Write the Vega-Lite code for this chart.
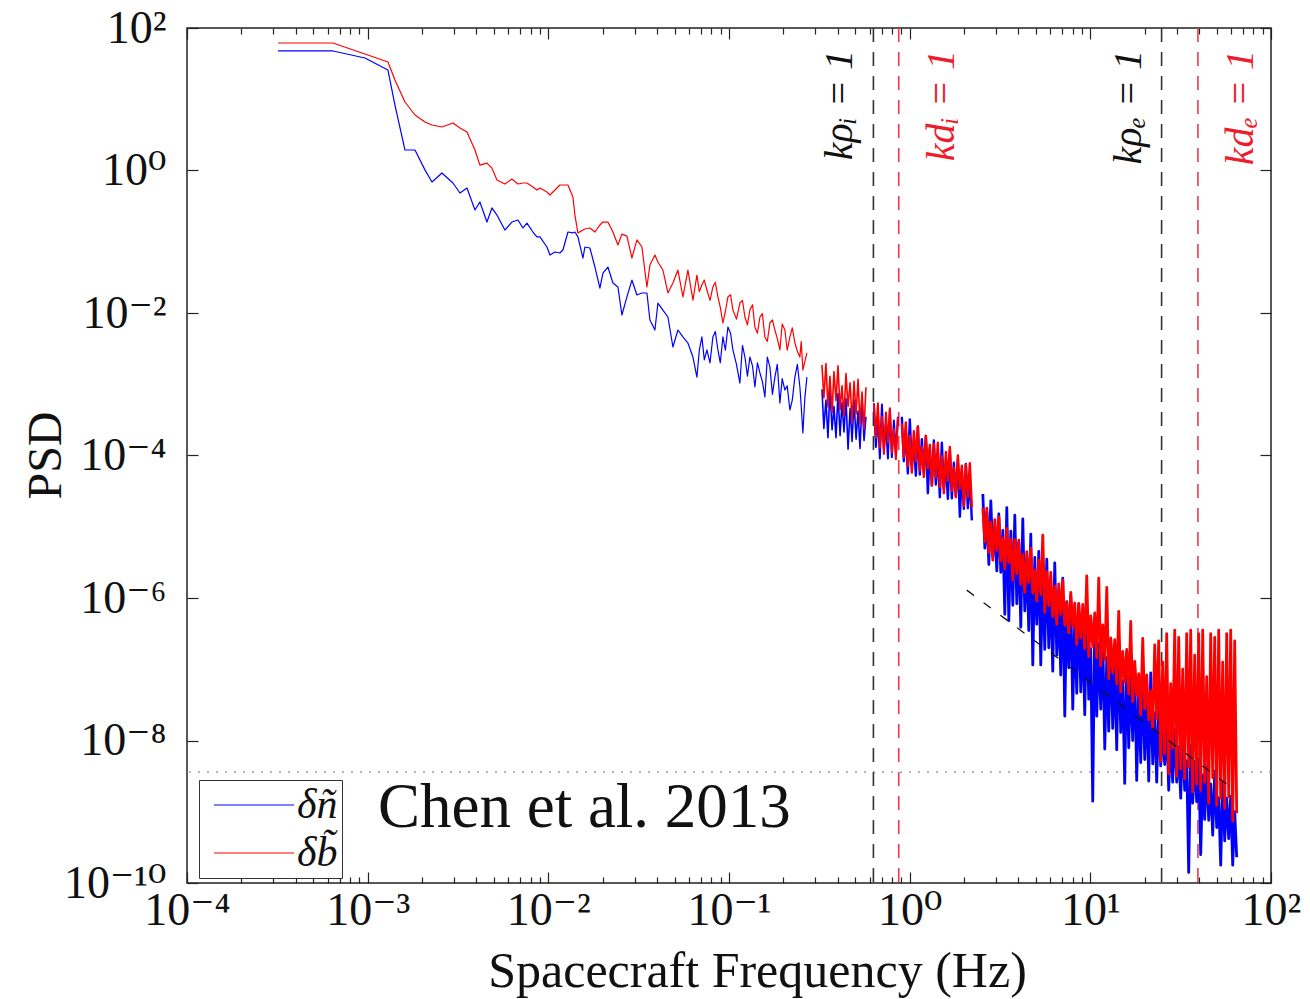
{
 "$schema": "https://vega.github.io/schema/vega-lite/v6.json",
 "width": 1084,
 "height": 855,
 "autosize": {"type": "none"},
 "padding": {"left": 187, "top": 28, "right": 39, "bottom": 116},
 "background": "white",
 "config": {"view": {"stroke": "#222", "strokeWidth": 1.5}, "font": "Liberation Serif"},
 "title": {"text": "p", "anchor": "start", "frame": "group", "baseline": "alphabetic", "offset": 30, "dx": 44, "fontSize": 60, "font": "Liberation Serif", "fontWeight": "normal", "color": "#e8280c"},
 "datasets": {
  "psd": [
   {"s":1,"f":3.19e-4,"n":47.6,"b":61.6},{"s":1,"f":6.43e-4,"n":47.6,"b":61.6},{"s":1,"f":9.66e-4,"n":37.9,"b":43.2},{"s":1,"f":1.295e-3,"n":25.7,"b":33.3},
   {"s":1,"f":1.416e-3,"n":8.30,"b":18.6},{"s":1,"f":1.608e-3,"n":1.94,"b":9.15},{"s":1,"f":1.828e-3,"n":1.94,"b":6.01},{"s":1,"f":2.075e-3,"n":1.02,"b":4.79},
   {"s":1,"f":2.27e-3,"n":0.690,"b":4.35},{"s":1,"f":2.577e-3,"n":0.922,"b":4.08},{"s":1,"f":2.965e-3,"n":0.668,"b":4.64},{"s":1,"f":3.243e-3,"n":0.483,"b":3.95},
   {"s":1,"f":3.544e-3,"n":0.568,"b":3.47},{"s":1,"f":3.926e-3,"n":0.279,"b":1.94},{"s":1,"f":4.18e-3,"n":0.361,"b":1.19},{"s":1,"f":4.573e-3,"n":0.189,"b":1.27},
   {"s":1,"f":4.875e-3,"n":0.298,"b":1.08},{"s":1,"f":5.195e-3,"n":0.237,"b":0.736},{"s":1,"f":5.75e-3,"n":0.146,"b":0.646},{"s":1,"f":6.288e-3,"n":0.189,"b":0.760},
   {"s":1,"f":6.788e-3,"n":0.202,"b":0.646},{"s":1,"f":7.235e-3,"n":0.156,"b":0.668},{"s":1,"f":7.614e-3,"n":0.183,"b":0.668},{"s":1,"f":8.218e-3,"n":0.137,"b":0.587},
   {"s":1,"f":8.647e-3,"n":0.117,"b":0.532},{"s":1,"f":8.984e-3,"n":0.117,"b":0.568},{"s":1,"f":9.824e-3,"n":0.0844,"b":0.499},{"s":1,"f":1.021e-2,"n":0.0652,"b":0.453},
   {"s":1,"f":1.088e-2,"n":0.0718,"b":0.532},{"s":1,"f":1.159e-2,"n":0.0695,"b":0.626},{"s":1,"f":1.204e-2,"n":0.0766,"b":0.626},{"s":1,"f":1.284e-2,"n":0.137,"b":0.626},
   {"s":1,"f":1.368e-2,"n":0.133,"b":0.425},{"s":1,"f":1.403e-2,"n":0.137,"b":0.237},{"s":1,"f":1.458e-2,"n":0.117,"b":0.133},{"s":1,"f":1.554e-2,"n":0.0591,"b":0.146},
   {"s":1,"f":1.594e-2,"n":0.0844,"b":0.151},{"s":1,"f":1.699e-2,"n":0.0817,"b":0.156},{"s":1,"f":1.811e-2,"n":0.0442,"b":0.137},{"s":1,"f":1.93e-2,"n":0.0224,"b":0.172},
   {"s":1,"f":2.005e-2,"n":0.0364,"b":0.189},{"s":1,"f":2.137e-2,"n":0.0442,"b":0.189},{"s":1,"f":2.278e-2,"n":0.0264,"b":0.137},{"s":1,"f":2.428e-2,"n":0.0232,"b":0.090},
   {"s":1,"f":2.554e-2,"n":0.00937,"b":0.128},{"s":1,"f":2.723e-2,"n":0.0168,"b":0.120},{"s":1,"f":2.901e-2,"n":0.0290,"b":0.0591},{"s":1,"f":3.093e-2,"n":0.0179,"b":0.106},
   {"s":1,"f":3.296e-2,"n":0.0191,"b":0.0844},{"s":1,"f":3.513e-2,"n":0.0191,"b":0.0232},{"s":1,"f":3.65e-2,"n":0.00798,"b":0.0472},{"s":1,"f":3.89e-2,"n":0.00577,"b":0.0652},
   {"s":1,"f":4.042e-2,"n":0.0138,"b":0.0520},{"s":1,"f":4.308e-2,"n":0.0110,"b":0.0401},{"s":1,"f":4.592e-2,"n":0.00879,"b":0.0191},{"s":1,"f":4.893e-2,"n":0.00333,"b":0.0264},
   {"s":1,"f":5.215e-2,"n":0.00577,"b":0.0401},{"s":1,"f":5.558e-2,"n":0.00461,"b":0.0168},{"s":1,"f":5.924e-2,"n":0.00379,"b":0.0401},{"s":1,"f":6.314e-2,"n":0.00241,"b":0.0152},
   {"s":1,"f":6.644e-2,"n":0.00126,"b":0.0341},{"s":1,"f":7.079e-2,"n":0.00461,"b":0.0247},{"s":1,"f":7.545e-2,"n":0.00303,"b":0.0210},{"s":1,"f":8.143e-2,"n":0.00461,"b":0.0232},
   {"s":1,"f":8.682e-2,"n":0.00303,"b":0.0168},{"s":1,"f":9.252e-2,"n":0.00461,"b":0.00724},{"s":1,"f":9.86e-2,"n":0.00636,"b":0.0168},{"s":1,"f":0.1051,"n":0.00303,"b":0.0110},
   {"s":1,"f":0.1149,"n":0.00104,"b":0.0138},{"s":1,"f":0.1225,"n":0.00241,"b":0.00879},{"s":1,"f":0.1305,"n":0.00241,"b":0.0110},{"s":1,"f":0.1391,"n":0.000915,"b":0.00636},
   {"s":1,"f":0.1483,"n":0.00144,"b":0.00879},{"s":1,"f":0.158,"n":0.000662,"b":0.00461},{"s":1,"f":0.1684,"n":0.00175,"b":0.00724},{"s":1,"f":0.1795,"n":0.00126,"b":0.00577},
   {"s":1,"f":0.1913,"n":0.000545,"b":0.00303},{"s":1,"f":0.2039,"n":0.00083,"b":0.00577},{"s":1,"f":0.2173,"n":0.000435,"b":0.00461},{"s":1,"f":0.2316,"n":0.00126,"b":0.00379},
   {"s":1,"f":0.2468,"n":0.000915,"b":0.00241},{"s":1,"f":0.2564,"n":0.000207,"b":0.00158},{"s":1,"f":0.2699,"n":0.00126,"b":0.00275},
   {"s":1,"f":6.85e-2,"n":0.0030,"b":0.0200},{"s":1,"f":7.3e-2,"n":0.0022,"b":0.0290},{"s":1,"f":7.85e-2,"n":0.0020,"b":0.0150},{"s":1,"f":8.4e-2,"n":0.0055,"b":0.0270},
   {"s":1,"f":8.95e-2,"n":0.0020,"b":0.0120},{"s":1,"f":9.55e-2,"n":0.0030,"b":0.0105},{"s":1,"f":0.102,"n":0.0052,"b":0.0180},{"s":1,"f":0.110,"n":0.0019,"b":0.0082},
   {"s":1,"f":0.1187,"n":0.0035,"b":0.0150},{"s":1,"f":0.1265,"n":0.0013,"b":0.0068},{"s":1,"f":0.135,"n":0.0018,"b":0.0130},{"s":1,"f":0.1437,"n":0.0020,"b":0.0052},
   {"s":1,"f":0.153,"n":0.0011,"b":0.0098},{"s":1,"f":0.163,"n":0.0024,"b":0.0040},{"s":1,"f":0.174,"n":0.00072,"b":0.0080},{"s":1,"f":0.185,"n":0.0019,"b":0.0044},
   {"s":1,"f":0.197,"n":0.0012,"b":0.0070},{"s":1,"f":0.210,"n":0.00095,"b":0.0030},{"s":1,"f":0.224,"n":0.00060,"b":0.0062},{"s":1,"f":0.239,"n":0.0019,"b":0.0029},
   {"s":1,"f":0.251,"n":0.00050,"b":0.0040},{"s":1,"f":0.263,"n":0.00065,"b":0.0021},
   {"s":2,"f":0.327,"n":8.5e-4,"b":1.86e-3},{"s":2,"f":0.335,"n":2.4e-4,"b":6.4e-4},{"s":2,"f":0.344,"n":6.0e-4,"b":1.95e-3},{"s":2,"f":0.353,"n":1.78e-4,"b":4.8e-4},
   {"s":2,"f":0.362,"n":8.5e-4,"b":1.29e-3},{"s":2,"f":0.372,"n":2.3e-4,"b":4.0e-4},{"s":2,"f":0.381,"n":4.9e-4,"b":1.51e-3},{"s":2,"f":0.391,"n":1.78e-4,"b":5.9e-4},
   {"s":2,"f":0.401,"n":7.4e-4,"b":1.82e-3},{"s":2,"f":0.412,"n":1.9e-4,"b":4.4e-4},{"s":2,"f":0.422,"n":5.5e-4,"b":9.5e-4},{"s":2,"f":0.433,"n":2.14e-4,"b":3.6e-4},
   {"s":2,"f":0.444,"n":6.3e-4,"b":1.41e-3},{"s":2,"f":0.456,"n":1.23e-4,"b":4.9e-4},{"s":2,"f":0.468,"n":4.6e-4,"b":1.05e-3},{"s":2,"f":0.480,"n":1.58e-4,"b":2.9e-4},
   {"s":2,"f":0.492,"n":6.0e-4,"b":1.1e-3},{"s":2,"f":0.505,"n":1.7e-4,"b":3.8e-4},{"s":2,"f":0.518,"n":4.2e-4,"b":1.17e-3},{"s":2,"f":0.531,"n":1.26e-4,"b":2.8e-4},
   {"s":2,"f":0.545,"n":6.0e-4,"b":7.8e-4},{"s":2,"f":0.559,"n":1.62e-4,"b":2.34e-4},{"s":2,"f":0.573,"n":3.5e-4,"b":9.1e-4},
   {"s":3,"f":0.634,"n":5.4e-4,"b":5.2e-4},{"s":3,"f":0.650,"n":1.32e-4,"b":1.78e-4},{"s":3,"f":0.667,"n":3.55e-4,"b":5.4e-4},{"s":3,"f":0.684,"n":9.1e-5,"b":1.29e-4},
   {"s":3,"f":0.702,"n":5.2e-4,"b":3.5e-4},{"s":3,"f":0.720,"n":1.2e-4,"b":1.05e-4},{"s":3,"f":0.739,"n":2.8e-4,"b":4.0e-4},{"s":3,"f":0.758,"n":9.1e-5,"b":1.51e-4},
   {"s":3,"f":0.777,"n":4.4e-4,"b":4.6e-4},{"s":3,"f":0.797,"n":9.5e-5,"b":1.1e-4},{"s":3,"f":0.818,"n":3.1e-4,"b":2.34e-4},{"s":3,"f":0.839,"n":1.07e-4,"b":8.9e-5},
   {"s":3,"f":0.861,"n":3.5e-4,"b":3.4e-4},
   {"s":4,"f":0.905,"n":3.5e-4,"b":2.8e-4},{"s":4,"f":0.928,"n":8.3e-5,"b":9.5e-5},{"s":4,"f":0.952,"n":2.24e-4,"b":2.9e-4},{"s":4,"f":0.977,"n":5.6e-5,"b":7.1e-5},
   {"s":4,"f":1.002,"n":3.2e-4,"b":1.9e-4},{"s":4,"f":1.028,"n":7.2e-5,"b":5.75e-5},{"s":4,"f":1.055,"n":1.66e-4,"b":2.2e-4},{"s":4,"f":1.082,"n":5.2e-5,"b":8.3e-5},
   {"s":4,"f":1.110,"n":2.5e-4,"b":2.57e-4},{"s":4,"f":1.138,"n":5.4e-5,"b":6.2e-5},{"s":4,"f":1.168,"n":1.7e-4,"b":1.32e-4},{"s":4,"f":1.198,"n":5.8e-5,"b":5.0e-5},
   {"s":4,"f":1.229,"n":1.86e-4,"b":1.9e-4},{"s":4,"f":1.261,"n":2.95e-5,"b":6.6e-5},{"s":4,"f":1.293,"n":1.26e-4,"b":1.41e-4},{"s":4,"f":1.327,"n":3.8e-5,"b":3.8e-5},
   {"s":4,"f":1.361,"n":1.62e-4,"b":1.45e-4},{"s":4,"f":1.396,"n":3.9e-5,"b":4.9e-5},{"s":4,"f":1.432,"n":1.05e-4,"b":1.51e-4},{"s":4,"f":1.469,"n":2.6e-5,"b":3.6e-5},
   {"s":4,"f":1.507,"n":1.51e-4,"b":9.8e-5},{"s":4,"f":1.546,"n":3.4e-5,"b":2.95e-5},{"s":4,"f":1.586,"n":7.8e-5,"b":1.12e-4},{"s":4,"f":1.627,"n":2.45e-5,"b":4.4e-5},
   {"s":4,"f":1.669,"n":1.17e-4,"b":1.32e-4},{"s":4,"f":1.712,"n":2.5e-5,"b":3.16e-5},{"s":4,"f":1.756,"n":7.9e-5,"b":6.8e-5},{"s":4,"f":1.801,"n":2.7e-5,"b":2.6e-5},
   {"s":4,"f":1.848,"n":8.7e-5,"b":1.0e-4},{"s":4,"f":1.896,"n":1.38e-5,"b":3.4e-5},{"s":4,"f":1.945,"n":5.9e-5,"b":7.2e-5},{"s":4,"f":1.995,"n":1.78e-5,"b":1.95e-5},
   {"s":4,"f":2.046,"n":7.6e-5,"b":7.4e-5},{"s":4,"f":2.099,"n":1.82e-5,"b":2.6e-5},{"s":4,"f":2.153,"n":4.9e-5,"b":7.8e-5},{"s":4,"f":2.209,"n":1.23e-5,"b":1.86e-5},
   {"s":5,"f":2.541,"n":2.88e-5,"b":1.86e-5},{"s":5,"f":2.607,"n":5.0e-6,"b":6.17e-6},{"s":5,"f":2.674,"n":1.58e-5,"b":1.82e-5},{"s":5,"f":2.743,"n":2.95e-6,"b":4.36e-6},
   {"s":5,"f":2.813,"n":2.3e-5,"b":1.15e-5},{"s":5,"f":2.886,"n":3.8e-6,"b":3.39e-6},{"s":5,"f":2.960,"n":9.8e-6,"b":1.26e-5},{"s":5,"f":3.037,"n":2.4e-6,"b":4.7e-6},
   {"s":5,"f":3.115,"n":1.51e-5,"b":1.38e-5},{"s":5,"f":3.195,"n":2.3e-6,"b":3.3e-6},{"s":5,"f":3.278,"n":8.9e-6,"b":6.9e-6},{"s":5,"f":3.362,"n":5.9e-7,"b":2.57e-6},
   {"s":5,"f":3.449,"n":1.86e-5,"b":9.5e-6},{"s":5,"f":3.538,"n":4.8e-7,"b":3.16e-6},{"s":5,"f":3.629,"n":8.7e-6,"b":6.7e-6},{"s":5,"f":3.723,"n":7.9e-7,"b":1.78e-6},
   {"s":5,"f":3.819,"n":1.45e-5,"b":6.6e-6},{"s":5,"f":3.917,"n":8.3e-7,"b":2.2e-6},{"s":5,"f":4.018,"n":6.0e-6,"b":6.5e-6},{"s":5,"f":4.122,"n":3.9e-7,"b":1.55e-6},
   {"s":5,"f":4.228,"n":1.29e-5,"b":4.07e-6},{"s":5,"f":4.337,"n":6.6e-7,"b":1.2e-6},{"s":5,"f":4.449,"n":3.4e-6,"b":4.47e-6},{"s":5,"f":4.564,"n":3.5e-7,"b":1.66e-6},
   {"s":5,"f":4.682,"n":7.9e-6,"b":5.0e-6},{"s":5,"f":4.802,"n":1.15e-7,"b":1.17e-6},{"s":5,"f":4.926,"n":3.7e-6,"b":2.45e-6},{"s":5,"f":5.053,"n":4.3e-7,"b":9.1e-7},
   {"s":5,"f":5.184,"n":4.5e-6,"b":3.39e-6},{"s":5,"f":5.317,"n":1.15e-7,"b":1.12e-6},{"s":5,"f":5.455,"n":2.1e-6,"b":7.6e-6},{"s":5,"f":5.595,"n":1.9e-7,"b":6.3e-7},
   {"s":5,"f":5.740,"n":3.5e-6,"b":2.34e-6},{"s":5,"f":5.888,"n":2.0e-7,"b":7.8e-7},{"s":5,"f":6.040,"n":1.45e-6,"b":2.29e-6},{"s":5,"f":6.195,"n":9.4e-8,"b":5.5e-7},
   {"s":5,"f":6.355,"n":3.1e-6,"b":1.45e-6},{"s":5,"f":6.519,"n":1.58e-7,"b":4.27e-7},{"s":5,"f":6.688,"n":8.1e-7,"b":1.58e-6},{"s":5,"f":6.860,"n":8.3e-8,"b":5.9e-7},
   {"s":5,"f":7.037,"n":1.9e-6,"b":1.78e-6},{"s":5,"f":7.219,"n":2.2e-8,"b":4.17e-7},{"s":5,"f":7.405,"n":8.9e-7,"b":8.7e-7},{"s":5,"f":7.596,"n":1.05e-7,"b":3.24e-7},
   {"s":5,"f":7.792,"n":1.07e-6,"b":1.2e-6},{"s":5,"f":7.993,"n":2.75e-8,"b":4.0e-7},{"s":5,"f":8.199,"n":5.0e-7,"b":8.5e-7},{"s":5,"f":8.411,"n":4.6e-8,"b":2.24e-7},
   {"s":5,"f":8.628,"n":8.3e-7,"b":8.3e-7},{"s":5,"f":8.851,"n":4.8e-8,"b":2.75e-7},{"s":5,"f":9.079,"n":3.5e-7,"b":8.1e-7},{"s":5,"f":9.313,"n":2.3e-8,"b":1.95e-7},
   {"s":5,"f":9.554,"n":7.4e-7,"b":2.04e-6},{"s":5,"f":9.800,"n":3.8e-8,"b":1.51e-7},{"s":5,"f":10.05,"n":1.95e-7,"b":5.6e-7},{"s":5,"f":10.31,"n":1.41e-9,"b":2.1e-7},
   {"s":5,"f":10.58,"n":4.7e-7,"b":6.2e-7},{"s":5,"f":10.85,"n":2.2e-8,"b":1.45e-7},{"s":5,"f":11.13,"n":2.3e-7,"b":1.9e-6},{"s":5,"f":11.42,"n":2.75e-8,"b":1.12e-7},
   {"s":5,"f":11.71,"n":2.9e-7,"b":4.2e-7},{"s":5,"f":12.02,"n":7.6e-9,"b":1.35e-7},{"s":5,"f":12.33,"n":1.45e-7,"b":1.41e-6},{"s":5,"f":12.64,"n":1.35e-8,"b":7.4e-8},
   {"s":5,"f":12.97,"n":2.5e-7,"b":2.75e-7},{"s":5,"f":13.30,"n":1.48e-8,"b":9.1e-8},{"s":5,"f":13.65,"n":1.12e-7,"b":2.6e-7},{"s":5,"f":14.00,"n":7.4e-9,"b":6.2e-8},
   {"s":5,"f":14.36,"n":2.45e-7,"b":6.5e-7},{"s":5,"f":14.73,"n":1.3e-8,"b":4.8e-8},{"s":5,"f":15.11,"n":6.9e-8,"b":1.78e-7},{"s":5,"f":15.50,"n":2.5e-9,"b":6.6e-8},
   {"s":5,"f":15.90,"n":1.7e-7,"b":1.9e-7},{"s":5,"f":16.31,"n":7.9e-9,"b":4.5e-8},{"s":5,"f":16.73,"n":8.5e-8,"b":4.7e-7},{"s":5,"f":17.16,"n":1.0e-8,"b":3.5e-8},
   {"s":5,"f":17.61,"n":1.05e-7,"b":1.29e-7},{"s":5,"f":18.06,"n":2.75e-9,"b":4.3e-8},{"s":5,"f":18.53,"n":5.1e-8,"b":8.7e-8},{"s":5,"f":19.01,"n":4.9e-9,"b":2.3e-8},
   {"s":5,"f":19.50,"n":9.1e-8,"b":2.7e-7},{"s":5,"f":20.00,"n":5.4e-9,"b":2.8e-8},{"s":5,"f":20.52,"n":4.0e-8,"b":8.3e-8},{"s":5,"f":21.05,"n":2.7e-9,"b":1.95e-8},
   {"s":5,"f":21.59,"n":8.9e-8,"b":5.0e-8},{"s":5,"f":22.15,"n":4.7e-9,"b":1.48e-8},{"s":5,"f":22.72,"n":2.45e-8,"b":2.2e-7},{"s":5,"f":23.30,"n":2.6e-9,"b":2.04e-8},
   {"s":5,"f":23.90,"n":2.8e-8,"b":2.5e-7},{"s":5,"f":24.52,"n":4.4e-9,"b":5.1e-9},{"s":5,"f":25.15,"n":1.7e-8,"b":1.26e-7},{"s":5,"f":25.80,"n":4.6e-9,"b":6.6e-9},
   {"s":5,"f":26.47,"n":1.82e-8,"b":3.16e-7},{"s":5,"f":27.15,"n":2.0e-9,"b":3.4e-9},{"s":5,"f":27.85,"n":1.1e-8,"b":6.3e-8},{"s":5,"f":28.57,"n":2.6e-9,"b":7.8e-9},
   {"s":5,"f":29.31,"n":1.45e-8,"b":3.55e-7},{"s":5,"f":30.07,"n":2.6e-9,"b":3.16e-9},{"s":5,"f":30.84,"n":8.1e-9,"b":2.8e-7},{"s":5,"f":31.64,"n":1.55e-9,"b":4.0e-9},
   {"s":5,"f":32.45,"n":1.23e-8,"b":1.0e-7},{"s":5,"f":33.29,"n":2.0e-9,"b":2.9e-9},{"s":5,"f":34.15,"n":5.2e-9,"b":3.16e-7},{"s":5,"f":35.03,"n":1.41e-10,"b":4.2e-9},
   {"s":5,"f":35.94,"n":8.5e-9,"b":3.55e-7},{"s":5,"f":36.86,"n":1.32e-9,"b":1.9e-9},{"s":5,"f":37.82,"n":5.1e-9,"b":1.58e-7},{"s":5,"f":38.79,"n":1.38e-9,"b":2.45e-9},
   {"s":5,"f":39.79,"n":5.5e-9,"b":3.16e-7},{"s":5,"f":40.82,"n":2.5e-10,"b":2.0e-9},{"s":5,"f":41.88,"n":3.3e-9,"b":3.55e-7},{"s":5,"f":42.96,"n":7.8e-10,"b":2.6e-9},
   {"s":5,"f":44.07,"n":4.4e-9,"b":7.9e-8},{"s":5,"f":45.20,"n":7.6e-10,"b":1.32e-9},{"s":5,"f":46.37,"n":2.45e-9,"b":3.16e-7},{"s":5,"f":47.57,"n":4.7e-10,"b":3.0e-9},
   {"s":5,"f":48.80,"n":3.7e-9,"b":2.8e-7},{"s":5,"f":50.06,"n":6.0e-10,"b":1.23e-9},{"s":5,"f":51.35,"n":1.58e-9,"b":3.55e-7},{"s":5,"f":52.67,"n":1.78e-10,"b":1.55e-9},
   {"s":5,"f":54.03,"n":2.6e-9,"b":1.26e-7},{"s":5,"f":55.43,"n":3.9e-10,"b":1.12e-9},{"s":5,"f":56.86,"n":1.55e-9,"b":3.16e-7},{"s":5,"f":58.33,"n":4.2e-10,"b":1.62e-9},
   {"s":5,"f":59.83,"n":1.66e-9,"b":3.55e-7},{"s":5,"f":61.38,"n":1.78e-10,"b":7.4e-10},{"s":5,"f":62.96,"n":1.0e-9,"b":2.5e-7},{"s":5,"f":64.59,"n":2.3e-10,"b":9.5e-10}
  ],
  "floor": [{"f": 2.07, "v": 1.29e-6}, {"f": 63.0, "v": 2.02e-9}],
  "vk": [{"f": 0.63, "t": "kρᵢ = 1"}, {"f": 24.8, "t": "kρₑ = 1"}],
  "vr": [{"f": 0.87, "t": "kdᵢ = 1"}, {"f": 39.4, "t": "kdₑ = 1"}]
 },
 "layer": [
  {
   "data": {"values": [{"level": 3.6e-9}]},
   "mark": {"type": "rule", "color": "#8a8a8a", "strokeDash": [2, 7], "strokeWidth": 1.3},
   "encoding": {"y": {"field": "level", "type": "quantitative", "scale": {"type": "log", "domain": [1e-10, 100], "nice": false}, "axis": null}}
  },
  {
   "data": {"name": "vk"},
   "mark": {"type": "rule", "color": "#333333", "strokeDash": [14, 10], "strokeWidth": 1.6},
   "encoding": {"x": {"field": "f", "type": "quantitative", "scale": {"type": "log", "domain": [1e-4, 100], "nice": false}, "axis": null}}
  },
  {
   "data": {"name": "vr"},
   "mark": {"type": "rule", "color": "#ee3a4c", "strokeDash": [14, 10], "strokeWidth": 1.6},
   "encoding": {"x": {"field": "f", "type": "quantitative", "scale": {"type": "log", "domain": [1e-4, 100], "nice": false}, "axis": null}}
  },
  {
   "data": {"name": "psd"},
   "mark": {"type": "line", "strokeJoin": "round"},
   "encoding": {
    "x": {"field": "f", "type": "quantitative", "scale": {"type": "log", "domain": [1e-4, 100], "nice": false},
     "axis": {"orient": "bottom", "values": [1e-4,2e-4,3e-4,4e-4,5e-4,6e-4,7e-4,8e-4,9e-4,1e-3,2e-3,3e-3,4e-3,5e-3,6e-3,7e-3,8e-3,9e-3,0.01,0.02,0.03,0.04,0.05,0.06,0.07,0.08,0.09,0.1,0.2,0.3,0.4,0.5,0.6,0.7,0.8,0.9,1,2,3,4,5,6,7,8,9,10,20,30,40,50,60,70,80,90,100],
      "labelExpr": "datum.value == 1e-4 ? '10⁻⁴' : datum.value == 1e-3 ? '10⁻³' : datum.value == 0.01 ? '10⁻²' : datum.value == 0.1 ? '10⁻¹' : datum.value == 1 ? '10⁰' : datum.value == 10 ? '10¹' : datum.value == 100 ? '10²' : ''",
      "tickSize": {"condition": {"test": "abs(log(datum.value)/LN10 - round(log(datum.value)/LN10)) < 0.000001", "value": -11}, "value": -6},
      "tickColor": "#222", "tickWidth": 1.2, "domain": false, "grid": false,
      "labelFont": "Liberation Serif, DejaVu Serif", "labelFontSize": 46, "labelColor": "#111", "labelPadding": 16, "labelOverlap": false, "labelBound": false, "labelFlush": false,
      "title": "Spacecraft Frequency (Hz)", "titleFont": "Liberation Serif", "titleFontSize": 50, "titleFontWeight": "normal", "titleColor": "#111",
      "titleX": 570, "titleY": 103, "titleAlign": "center", "titleBaseline": "alphabetic"}},
    "y": {"field": "n", "type": "quantitative", "scale": {"type": "log", "domain": [1e-10, 100], "nice": false},
     "axis": {"orient": "left", "values": [1e-10, 1e-8, 1e-6, 1e-4, 0.01, 1, 100],
      "labelExpr": "datum.value == 100 ? '10²' : datum.value == 1 ? '10⁰' : datum.value == 0.01 ? '10⁻²' : datum.value == 1e-4 ? '10⁻⁴' : datum.value == 1e-6 ? '10⁻⁶' : datum.value == 1e-8 ? '10⁻⁸' : '10⁻¹⁰'",
      "tickSize": -11, "tickColor": "#222", "tickWidth": 1.2, "domain": false, "grid": false,
      "labelFont": "Liberation Serif, DejaVu Serif", "labelFontSize": 46, "labelColor": "#111", "labelPadding": 32, "labelOverlap": false, "labelBound": false, "labelFlush": false,
      "title": "PSD", "titleFont": "Liberation Serif", "titleFontSize": 48, "titleFontWeight": "normal", "titleColor": "#111",
      "titleX": -141, "titleY": 427, "titleAngle": 270, "titleAlign": "center", "titleBaseline": "middle"}},
    "detail": {"field": "s"},
    "strokeWidth": {"field": "s", "type": "ordinal", "scale": {"domain": [1, 2, 3, 4, 5], "range": [1.2, 2.8, 2.8, 2.8, 3.6]}, "legend": null},
    "color": {"datum": "δñ", "scale": {"domain": ["δñ", "δb̃"], "range": ["#0000ff", "#ff0000"]},
     "legend": {"orient": "none", "legendX": 12, "legendY": 752, "title": null, "symbolType": "M-1,0H7", "symbolSize": 400, "symbolStrokeWidth": 1.2,
      "labelFont": "Liberation Serif", "labelFontStyle": "italic", "labelFontSize": 42, "labelColor": "#111", "labelOffset": 52, "labelLimit": 0,
      "strokeColor": "#333", "fillColor": "white", "padding": 4, "rowPadding": 6}}
   }
  },
  {
   "data": {"name": "psd"},
   "mark": {"type": "line", "strokeJoin": "round"},
   "encoding": {
    "x": {"field": "f", "type": "quantitative", "scale": {"type": "log", "domain": [1e-4, 100], "nice": false}, "axis": null},
    "y": {"field": "b", "type": "quantitative", "scale": {"type": "log", "domain": [1e-10, 100], "nice": false}, "axis": null},
    "detail": {"field": "s"},
    "strokeWidth": {"field": "s", "type": "ordinal", "scale": {"domain": [1, 2, 3, 4, 5], "range": [1.2, 2.8, 2.8, 2.8, 3.6]}, "legend": null},
    "color": {"datum": "δb̃"}
   }
  },
  {
   "data": {"name": "floor"},
   "mark": {"type": "line", "color": "#111", "strokeDash": [9, 12], "strokeWidth": 1.3},
   "encoding": {
    "x": {"field": "f", "type": "quantitative", "scale": {"type": "log", "domain": [1e-4, 100], "nice": false},
     "axis": {"orient": "top", "values": [1e-4,2e-4,3e-4,4e-4,5e-4,6e-4,7e-4,8e-4,9e-4,1e-3,2e-3,3e-3,4e-3,5e-3,6e-3,7e-3,8e-3,9e-3,0.01,0.02,0.03,0.04,0.05,0.06,0.07,0.08,0.09,0.1,0.2,0.3,0.4,0.5,0.6,0.7,0.8,0.9,1,2,3,4,5,6,7,8,9,10,20,30,40,50,60,70,80,90,100],
      "labels": false, "title": null, "domain": false, "grid": false, "tickColor": "#222", "tickWidth": 1.2,
      "tickSize": {"condition": {"test": "abs(log(datum.value)/LN10 - round(log(datum.value)/LN10)) < 0.000001", "value": -11}, "value": -6}}},
    "y": {"field": "v", "type": "quantitative", "scale": {"type": "log", "domain": [1e-10, 100], "nice": false},
     "axis": {"orient": "right", "values": [1e-10, 1e-8, 1e-6, 1e-4, 0.01, 1, 100], "labels": false, "title": null, "domain": false, "grid": false, "tickColor": "#222", "tickWidth": 1.2, "tickSize": -11}}
   }
  },
  {
   "data": {"name": "vk"},
   "mark": {"type": "text", "angle": 270, "align": "right", "baseline": "middle", "dy": -33, "fontSize": 40, "fontStyle": "italic", "font": "Liberation Serif", "color": "#111"},
   "encoding": {
    "x": {"field": "f", "type": "quantitative", "scale": {"type": "log", "domain": [1e-4, 100], "nice": false}, "axis": null},
    "y": {"datum": 49, "type": "quantitative", "scale": {"type": "log", "domain": [1e-10, 100], "nice": false}, "axis": null},
    "text": {"field": "t"}
   }
  },
  {
   "data": {"name": "vr"},
   "mark": {"type": "text", "angle": 270, "align": "right", "baseline": "middle", "dy": 43, "fontSize": 40, "fontStyle": "italic", "font": "Liberation Serif", "color": "#ee1c2c"},
   "encoding": {
    "x": {"field": "f", "type": "quantitative", "scale": {"type": "log", "domain": [1e-4, 100], "nice": false}, "axis": null},
    "y": {"datum": 49, "type": "quantitative", "scale": {"type": "log", "domain": [1e-10, 100], "nice": false}, "axis": null},
    "text": {"field": "t"}
   }
  },
  {
   "data": {"values": [{"t": "Chen et al. 2013"}]},
   "mark": {"type": "text", "align": "left", "baseline": "alphabetic", "fontSize": 63, "font": "Liberation Serif", "color": "#111"},
   "encoding": {
    "x": {"datum": 1.14e-3, "type": "quantitative", "scale": {"type": "log", "domain": [1e-4, 100], "nice": false}, "axis": null},
    "y": {"datum": 6.1e-10, "type": "quantitative", "scale": {"type": "log", "domain": [1e-10, 100], "nice": false}, "axis": null},
    "text": {"field": "t"}
   }
  }
 ],
 "resolve": {"axis": {"x": "independent", "y": "independent"}}
}
